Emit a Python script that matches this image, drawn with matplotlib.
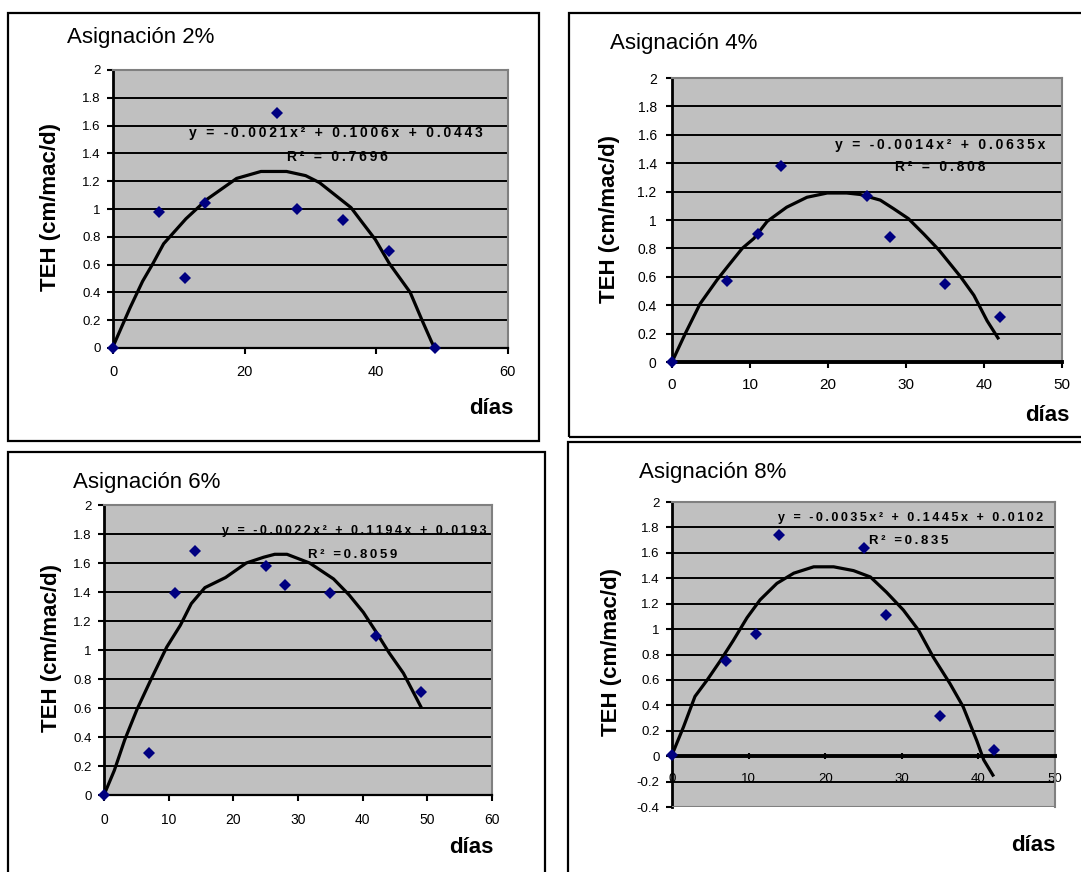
import matplotlib
matplotlib.use("Agg")
import matplotlib.pyplot as plt
from matplotlib.patches import Rectangle
from matplotlib.ticker import FuncFormatter

plt.rcParams['font.family'] = ['Liberation Sans', 'DejaVu Sans']

W, H = 1081, 872

# ---------------- data ----------------
titles = ["Asignación 2%", "Asignación 4%", "Asignación 6%", "Asignación 8%"]

dias_2 = [0, 7, 11, 14, 25, 28, 35, 42, 49]
teh_2 = [0, 0.98, 0.50, 1.04, 1.69, 1.00, 0.92, 0.70, 0]
curve_x_2 = [0, 2.6, 4.5, 6.1, 7.7, 11.1, 14.3, 18.8, 22.5, 26.4, 29.3, 31.4, 33.8,
             36.2, 37.8, 39.9, 42.0, 45.2, 47.0, 48.4, 48.9]
curve_y_2 = [0.01, 0.29, 0.48, 0.61, 0.75, 0.93, 1.07, 1.22, 1.27, 1.27, 1.24, 1.19,
             1.10, 1.01, 0.91, 0.78, 0.61, 0.40, 0.20, 0.05, 0.0]

dias_4 = [0, 7, 11, 14, 25, 28, 35, 42]
teh_4 = [0, 0.57, 0.90, 1.38, 1.17, 0.88, 0.55, 0.32]
curve_x_4 = [0, 1.7, 3.6, 5.8, 7.1, 9.0, 10.5, 12.2, 14.7, 17.3, 19.9, 22.4, 24.1,
             26.7, 28.4, 30.3, 32.3, 34.2, 37.0, 38.7, 40.4, 41.9]
curve_y_4 = [0, 0.20, 0.41, 0.58, 0.67, 0.80, 0.87, 0.99, 1.09, 1.16, 1.19, 1.19, 1.18,
             1.14, 1.08, 1.01, 0.90, 0.79, 0.60, 0.47, 0.29, 0.16]

dias_6 = [0, 7, 11, 14, 25, 28, 35, 42, 49]
teh_6 = [0, 0.29, 1.39, 1.68, 1.58, 1.45, 1.39, 1.10, 0.71]
curve_x_6 = [0, 1.6, 3.2, 5.1, 7.3, 9.7, 11.8, 13.5, 15.6, 18.8, 22.0, 24.7, 26.4,
             28.3, 31.8, 35.5, 37.9, 40.1, 42.0, 44.1, 46.3, 49.1]
curve_y_6 = [0, 0.17, 0.38, 0.59, 0.80, 1.02, 1.17, 1.32, 1.43, 1.50, 1.60, 1.64, 1.66,
             1.66, 1.60, 1.49, 1.38, 1.26, 1.13, 0.98, 0.84, 0.60]

dias_8 = [0, 7, 11, 14, 25, 28, 35, 42]
teh_8 = [0.01, 0.75, 0.96, 1.74, 1.64, 1.11, 0.32, 0.05]
curve_x_8 = [0, 1.5, 3.0, 4.6, 6.3, 8.0, 9.8, 11.5, 13.7, 15.9, 18.5, 21.1, 23.7,
             25.9, 28.0, 30.2, 32.2, 34.1, 36.3, 38.0, 39.8, 40.7, 42.0]
curve_y_8 = [0.01, 0.23, 0.47, 0.60, 0.75, 0.91, 1.09, 1.23, 1.36, 1.44, 1.49, 1.49,
             1.46, 1.41, 1.29, 1.15, 0.99, 0.78, 0.57, 0.39, 0.12, -0.03, -0.16]

equations = ["y = -0.0021x² + 0.1006x + 0.0443",
             "y = -0.0014x² + 0.0635x",
             "y = -0.0022x² + 0.1194x + 0.0193",
             "y = -0.0035x² + 0.1445x + 0.0102"]
r2_labels = ["R² = 0.7696", "R² = 0.808", "R² =0.8059", "R² =0.835"]

xlabel = "días"
ylabel = "TEH (cm/mac/d)"

# ---------------- layout ----------------
fig = plt.figure(figsize=(W / 100, H / 100), dpi=100)
fig.patch.set_facecolor("white")


def fx(x):
    return x / W


def fy(y):
    return 1 - y / H


def box(x0, y0, x1, y1):
    fig.patches.append(Rectangle((fx(x0), fy(y1)), fx(x1) - fx(x0), fy(y0) - fy(y1),
                                 transform=fig.transFigure, fill=False,
                                 edgecolor="black", linewidth=1.6, zorder=0))


def track(s):
    return "\u2009".join(s)


panels = [
    dict(box=(8, 13, 539, 441), ax=(113, 70, 507.5, 348), xlim=(0, 60), xstep=20,
         ylim=(0, 2), data=(dias_2, teh_2, curve_x_2, curve_y_2),
         title=(67, 38), ylab=(51, 207), xlab=(513, 408),
         eq=(11.6, 1.545), r2=(26.4, 1.377), eqfs=10, r2fs=10, xfs=10.5, yfs=9.5,
         xpad=8, ypad=5, zero_thick=False),
    dict(box=(569, 13, 1090, 437), ax=(672, 78, 1062, 362), xlim=(0, 50), xstep=10,
         ylim=(0, 2), data=(dias_4, teh_4, curve_x_4, curve_y_4),
         title=(610, 43), ylab=(610, 219), xlab=(1070, 415),
         eq=(20.9, 1.53), r2=(28.6, 1.376), eqfs=10, r2fs=10, xfs=11, yfs=10,
         xpad=7.5, ypad=7, zero_thick=True),
    dict(box=(8, 452, 545, 880), ax=(104, 505, 492, 795), xlim=(0, 60), xstep=10,
         ylim=(0, 2), data=(dias_6, teh_6, curve_x_6, curve_y_6),
         title=(73, 482), ylab=(52, 648), xlab=(494, 847),
         eq=(18.3, 1.82), r2=(31.5, 1.655), eqfs=9, r2fs=9.5, xfs=10, yfs=9.5,
         xpad=9, ypad=5, zero_thick=False),
    dict(box=(568, 442, 1090, 880), ax=(672, 502, 1055, 807), xlim=(0, 50), xstep=10,
         ylim=(-0.4, 2), data=(dias_8, teh_8, curve_x_8, curve_y_8),
         title=(639, 472), ylab=(612, 652), xlab=(1056, 845),
         eq=(13.9, 1.877), r2=(25.7, 1.693), eqfs=9, r2fs=9.5, xfs=9.5, yfs=9.5,
         xpad=9.5, ypad=5, zero_thick=True),
]

gfmt = FuncFormatter(lambda v, p: ("%g" % round(v, 2)))

for i, p in enumerate(panels):
    box(*p["box"])
    x0, y0, x1, y1 = p["ax"]
    ax = fig.add_axes([fx(x0), fy(y1), fx(x1) - fx(x0), fy(y0) - fy(y1)])
    ax.set_facecolor("#C0C0C0")
    ax.set_xlim(*p["xlim"])
    ax.set_ylim(*p["ylim"])
    ax.set_xticks(range(p["xlim"][0], p["xlim"][1] + 1, p["xstep"]))
    nticks = int(round((p["ylim"][1] - p["ylim"][0]) / 0.2)) + 1
    yt = [round(p["ylim"][0] + 0.2 * k, 1) for k in range(nticks)]
    ax.set_yticks(yt)
    ax.yaxis.set_major_formatter(gfmt)
    ax.xaxis.set_major_formatter(gfmt)
    for v in yt:
        if v != p["ylim"][0] and v != p["ylim"][1]:
            ax.axhline(v, color="black", linewidth=1.4, zorder=1)
    for s in ["top", "right"]:
        ax.spines[s].set_color("#808080")
        ax.spines[s].set_linewidth(1.5)
    ax.spines["left"].set_color("black")
    ax.spines["left"].set_linewidth(2.0)
    ax.spines["bottom"].set_color("black")
    ax.spines["bottom"].set_linewidth(2.8 if p["zero_thick"] else 1.6)
    if p["ylim"][0] < 0:
        ax.spines["bottom"].set_position(("data", 0))
        ax.axhline(p["ylim"][0], color="#808080", linewidth=1.5, zorder=3)
        ax.tick_params(axis="x", direction="inout", length=5, width=1.5,
                       labelsize=p["xfs"], pad=p["xpad"])
    else:
        ax.tick_params(axis="x", direction="out", length=4, width=1.5,
                       labelsize=p["xfs"], pad=p["xpad"])
    ax.tick_params(axis="y", direction="out", length=4, width=1.5,
                   labelsize=p["yfs"], pad=p["ypad"])

    dx, dy, cx, cy = p["data"]
    ax.plot(cx, cy, color="black", linewidth=2.3, zorder=4, clip_on=False,
            solid_joinstyle="round", solid_capstyle="butt")
    ax.plot(dx, dy, linestyle="none", marker="D", markersize=6.5,
            color="#000080", markeredgewidth=0, zorder=5, clip_on=False)

    ax.text(p["eq"][0], p["eq"][1], track(equations[i]), fontsize=p["eqfs"],
            fontweight="bold", ha="left", va="center", color="black", zorder=6)
    ax.text(p["r2"][0], p["r2"][1], track(r2_labels[i]), fontsize=p["r2fs"],
            fontweight="bold", ha="left", va="center", color="black", zorder=6)

    fig.text(fx(p["title"][0]), fy(p["title"][1]), titles[i], fontsize=16,
             ha="left", va="center")
    fig.text(fx(p["ylab"][0]), fy(p["ylab"][1]), ylabel, fontsize=16,
             fontweight="bold", rotation=90, ha="center", va="center")
    fig.text(fx(p["xlab"][0]), fy(p["xlab"][1]), xlabel, fontsize=16,
             fontweight="bold", ha="right", va="center")

fig.savefig("out.png", dpi=100)
